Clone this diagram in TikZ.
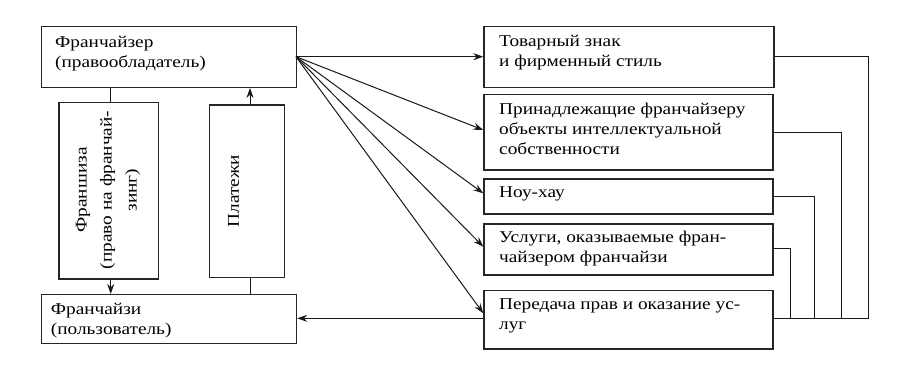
\documentclass[tikz,border=0pt]{standalone}
\usepackage{fontspec}
\setmainfont[FakeStretch=1.17]{Liberation Serif}
\usetikzlibrary{arrows.meta}
\tikzset{
  box/.style={draw=black!85, line width=1.2pt, anchor=north west, inner sep=0pt},
  lbl/.style={anchor=west, align=left, inner sep=0pt, font=\fontsize{16.5}{20}\selectfont},
  vlbl/.style={rotate=90, align=center, inner sep=0pt, font=\fontsize{16.5}{25}\selectfont},
  conn/.style={line width=1pt, draw=black!90},
  arr/.style={conn, -{Stealth[length=10pt,width=7pt]}},
}
\begin{document}
\begin{tikzpicture}[x=1pt,y=-1pt]
\useasboundingbox (0,0) rectangle (910,381);
% left column
\node[box, minimum width=255.3pt, minimum height=60.7pt] (fr) at (40.7,26) {};
\node[lbl] (frt) at (55,53.5) {Франчайзер\\(правообладатель)};
\node[box, minimum width=255.3pt, minimum height=48.7pt] (fe) at (40.7,294) {};
\node[lbl] (fet) at (50.7,320.5) {Франчайзи\\(пользователь)};
\node[box, minimum width=99.4pt, minimum height=176.6pt] (fs) at (58.3,101.7) {};
\node[vlbl] (fst) at (108,190) {Франшиза\\(право на франчай-\\зинг)};
\node[box, minimum width=74.7pt, minimum height=172.7pt] (pl) at (209,104.3) {};
\node[vlbl] (plt) at (233.5,191) {Платежи};
% right column
\node[box, minimum width=290pt, minimum height=60.7pt] (b1) at (483.3,26) {};
\node[lbl] (b1t) at (499,52.2) {Товарный знак\\и фирменный стиль};
\node[box, minimum width=289pt, minimum height=75.3pt] (b2) at (483.3,94) {};
\node[lbl] (b2t) at (499,128.5) {Принадлежащие франчайзеру\\объекты интеллектуальной\\собственности};
\node[box, minimum width=289pt, minimum height=35pt] (b3) at (483.3,178.3) {};
\node[lbl] (b3t) at (499,193.5) {Ноу-хау};
\node[box, minimum width=289pt, minimum height=51pt] (b4) at (483.3,223.3) {};
\node[lbl] (b4t) at (499,248.5) {Услуги, оказываемые фран-\\чайзером франчайзи};
\node[box, minimum width=289pt, minimum height=58.3pt] (b5) at (483.3,290) {};
\node[lbl] (b5t) at (499,315.5) {Передача прав и оказание ус-\\луг};
% vertical links
\coordinate (f1) at (110.7,0);
\draw[conn] (f1 |- fr.south) -- (f1 |- fs.north);
\draw[arr] (f1 |- fs.south) -- (f1 |- fe.north);
\coordinate (p1) at (250,0);
\draw[conn] (p1 |- fe.north) -- (p1 |- pl.south);
\draw[arr] (p1 |- pl.north) -- (p1 |- fr.south);
% fan arrows
\coordinate (o) at (296,56.7);
\draw[arr] (o) -- (b1.west |- 0,56.7);
\draw[arr] (o) -- (b2.west |- 0,130);
\draw[arr] (o) -- (b3.west |- 0,193.3);
\draw[arr] (o) -- (b4.west |- 0,246.7);
\draw[arr] (o) -- (b5.west |- 0,313.3);
\draw[arr] (b5.west |- 0,318.3) -- (fe.east |- 0,318.3);
% right feedback lines
\coordinate (r1) at (868.3,0);
\coordinate (r2) at (841.7,0);
\coordinate (r3) at (814.3,0);
\coordinate (r4) at (790,0);
\coordinate (bot) at (0,318.3);
\draw[conn] (b1.east |- 0,56.7) -- (r1 |- 0,56.7) -- (r1 |- bot) -- (b5.east |- bot);
\draw[conn] (b2.east |- 0,132.3) -- (r2 |- 0,132.3) -- (r2 |- bot);
\draw[conn] (b3.east |- 0,196) -- (r3 |- 0,196) -- (r3 |- bot);
\draw[conn] (b4.east |- 0,248.3) -- (r4 |- 0,248.3) -- (r4 |- bot);
\end{tikzpicture}
\end{document}
